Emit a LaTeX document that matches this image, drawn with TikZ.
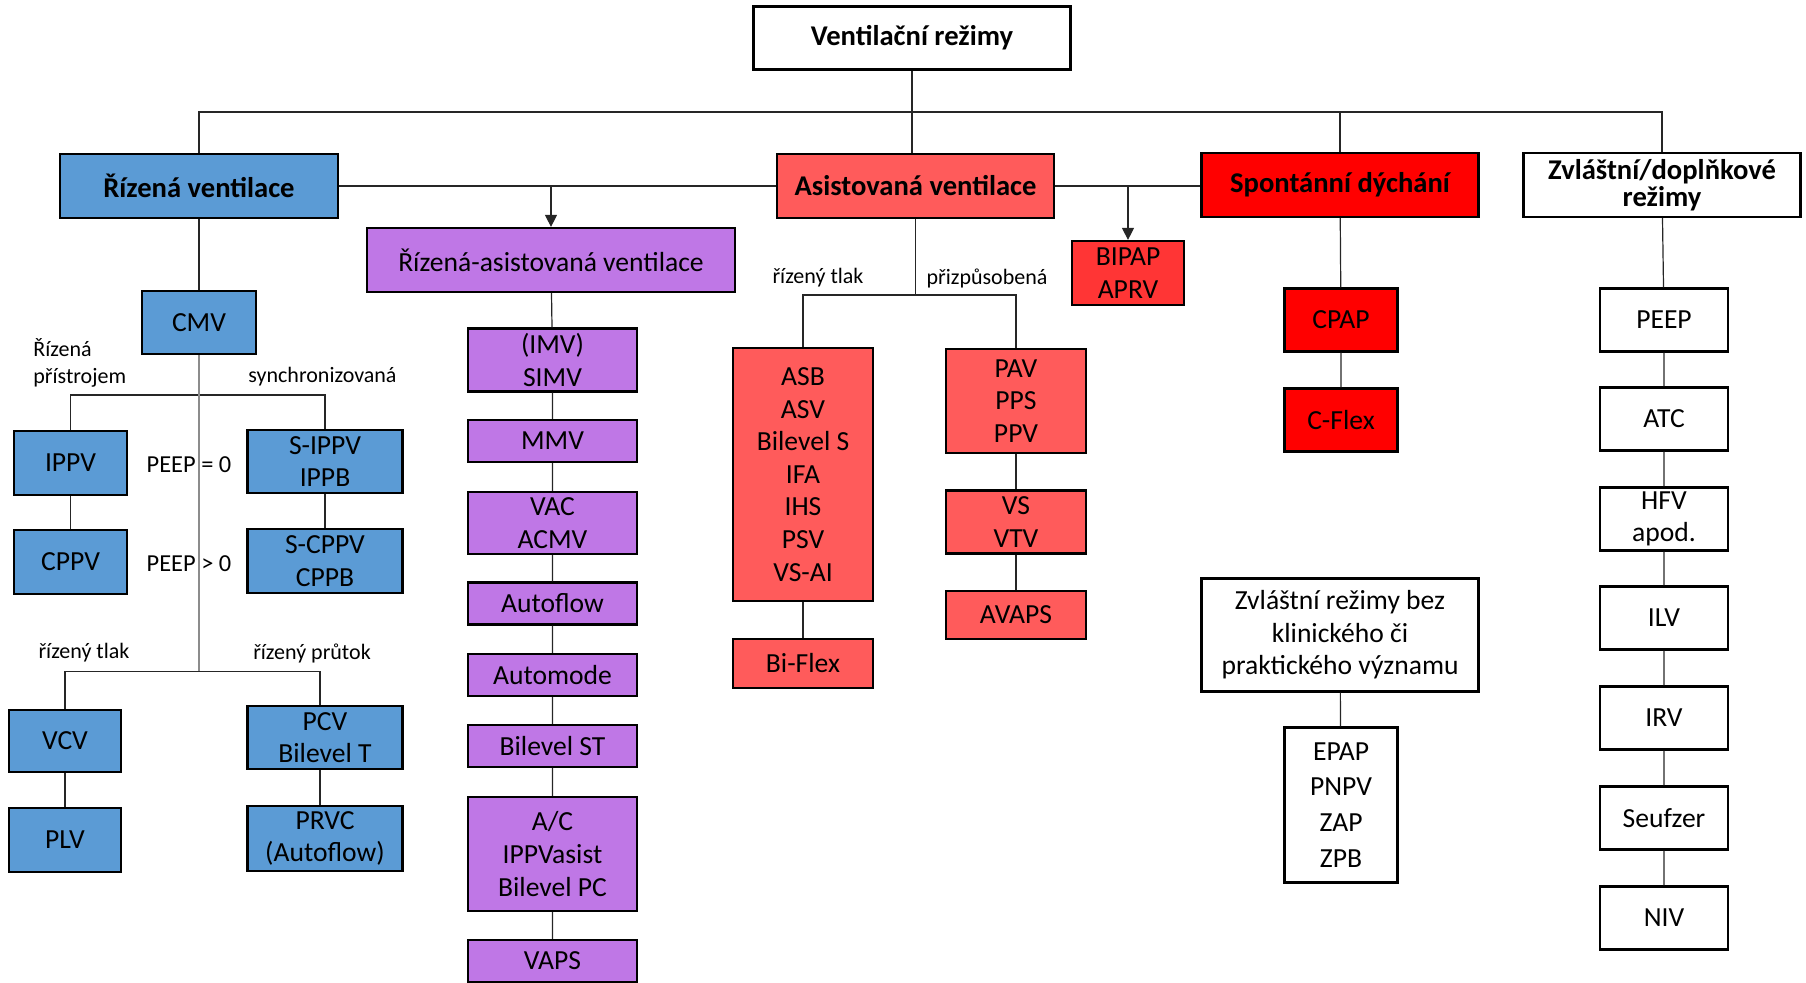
\documentclass[tikz,border=0pt]{standalone}
\usepackage{fontspec}
\setmainfont{Carlito}
\usetikzlibrary{arrows.meta}
\definecolor{cblue}{HTML}{5B9BD5}
\definecolor{cpurple}{HTML}{BF77E6}
\definecolor{csalmon}{HTML}{FF5B5B}
\definecolor{cred}{HTML}{FF0000}
\definecolor{cbipap}{HTML}{FF3535}
\begin{document}
\begin{tikzpicture}[x=0.5pt,y=-0.5pt,
  box/.style={draw=black, line width=1.1pt, inner sep=0pt, align=center, font=\fontsize{13.8}{16.3}\selectfont},
  hdr/.style={box, font=\fontsize{14.3}{13.6}\selectfont\bfseries},
  lbl/.style={inner sep=0pt, align=center, font=\fontsize{11}{13.3}\selectfont},
  ln/.style={line width=0.6pt, draw=black!85},
  arr/.style={ln, -{Triangle[width=6pt,length=6pt]}},
  bl/.style={box, fill=cblue},
  pu/.style={box, fill=cpurple, minimum width=84.5pt},
  sa/.style={box, fill=csalmon, minimum width=70.25pt},
  rd/.style={box, fill=cred, minimum width=56.5pt, minimum height=31.5pt},
  wh/.style={box, fill=white, minimum width=64pt, minimum height=31.5pt},
]
\useasboundingbox (0,0) rectangle (1806,983);

% top level
\node[hdr, fill=white, minimum width=158.5pt, minimum height=31.5pt] (top) at (912,38) {Ventilační režimy};
\node[hdr, fill=cblue, minimum width=139pt, minimum height=32pt] (riz) at (199,186) {Řízená ventilace};
\node[hdr, fill=csalmon, minimum width=138.5pt, minimum height=32pt] (asi) at (915.5,186) {Asistovaná ventilace};
\node[hdr, fill=cred, minimum width=138.5pt, minimum height=32pt] (spo) at (1340,185) {Spontánní dýchání};
\node[hdr, fill=white, minimum width=138.5pt, minimum height=32pt] (zvl) at (1662,185) {Zvláštní/doplňkové\\režimy};

% left blue column
\node[bl, minimum width=57pt, minimum height=31.5pt] (cmv) at (199,322.5) {CMV};
\node[bl, minimum width=56.5pt, minimum height=32pt] (ippv) at (70.5,463) {IPPV};
\node[bl, minimum width=56.5pt, minimum height=32pt] (cppv) at (70.5,562) {CPPV};
\node[bl, minimum width=77.5pt, minimum height=31.5pt] (sippv) at (325,461.5) {S-IPPV\\IPPB};
\node[bl, minimum width=77.5pt, minimum height=32pt] (scppv) at (325,561) {S-CPPV\\CPPB};
\node[bl, minimum width=56pt, minimum height=31pt] (vcv) at (65,741) {VCV};
\node[bl, minimum width=56pt, minimum height=32pt] (plv) at (65,840) {PLV};
\node[bl, minimum width=77.5pt, minimum height=31.5pt] (pcv) at (325,737.5) {PCV\\Bilevel T};
\node[bl, minimum width=77.5pt, minimum height=32.5pt] (prvc) at (325,838.5) {PRVC\\(Autoflow)};

\node[lbl, anchor=west, align=left] (lrp) at (33,363) {Řízená\\přístrojem};
\node[lbl] (lsy) at (322.5,377) {synchronizovaná};
\node[lbl, font=\fontsize{12.2}{14}\selectfont] (lp0) at (189,465) {PEEP = 0};
\node[lbl, font=\fontsize{12.2}{14}\selectfont] (lp1) at (189,564) {PEEP > 0};
\node[lbl] (lrt) at (84,653) {řízený tlak};
\node[lbl] (lrpr) at (312,653) {řízený průtok};

% purple column
\node[box, fill=cpurple, minimum width=184pt, minimum height=32pt] (rav) at (551,260) {Řízená-asistovaná ventilace};
\node[pu, minimum height=31.5pt] (simv) at (552.5,360) {(IMV)\\SIMV};
\node[pu, minimum height=21pt] (mmv) at (552.5,441) {MMV};
\node[pu, minimum height=31pt] (vac) at (552.5,523) {VAC\\ACMV};
\node[pu, minimum height=21pt] (aflow) at (552.5,603.5) {Autoflow};
\node[pu, minimum height=21pt] (amode) at (552.5,675) {Automode};
\node[pu, minimum height=21pt] (bst) at (552.5,746) {Bilevel ST};
\node[pu, minimum height=57pt] (ac) at (552.5,854) {A/C\\IPPVasist\\Bilevel PC};
\node[pu, minimum height=21pt] (vaps) at (552.5,961) {VAPS};

% assisted column
\node[sa, minimum height=126.5pt] (asb) at (803,474.5) {ASB\\ASV\\Bilevel S\\IFA\\IHS\\PSV\\VS-AI};
\node[sa, minimum height=24.5pt] (bif) at (803,663.5) {Bi-Flex};
\node[sa, minimum height=52pt] (pav) at (1016,401) {PAV\\PPS\\PPV};
\node[sa, minimum height=31.5pt] (vs) at (1016,522) {VS\\VTV};
\node[sa, minimum height=24pt] (avaps) at (1016,615) {AVAPS};
\node[box, fill=cbipap, minimum width=56pt, minimum height=32pt] (bipap) at (1128,273) {BIPAP\\APRV};
\node[lbl] (lrt2) at (818,278) {řízený tlak};
\node[lbl] (lpriz) at (987,278) {přizpůsobená};

% spontaneous column
\node[rd] (cpap) at (1341,320) {CPAP};
\node[rd] (cflex) at (1341,420) {C-Flex};
\node[box, fill=white, minimum width=138.5pt, minimum height=56.5pt] (zrez) at (1340,635) {Zvláštní režimy bez\\klinického či\\praktického významu};
\node[box, fill=white, minimum width=56.5pt, minimum height=77.5pt, font=\fontsize{13.8}{17.9}\selectfont] (epap) at (1341,805) {EPAP\\PNPV\\ZAP\\ZPB};

% special column
\node[wh] (peep) at (1664,320) {PEEP};
\node[wh] (atc) at (1664,419) {ATC};
\node[wh] (hfv) at (1664,519) {HFV\\apod.};
\node[wh] (ilv) at (1664,618) {ILV};
\node[wh] (irv) at (1664,718) {IRV};
\node[wh] (seu) at (1664,818) {Seufzer};
\node[wh] (niv) at (1664,918) {NIV};

% connectors
\coordinate (busy) at (0,112);
\draw[ln] (riz.north) -- (riz.north |- busy) -- (zvl.north |- busy) -- (zvl.north);
\draw[ln] (top.south) -- (top.south |- asi.north);
\draw[ln] (spo.north |- busy) -- (spo.north);

\draw[ln] (riz.east) -- (asi.west);
\draw[arr] (riz.east -| rav.north) -- (rav.north);
\draw[ln] (asi.east) -- (asi.east -| spo.west);
\draw[arr] (asi.east -| bipap.north) -- (bipap.north);

\draw[ln] (riz) -- (cmv);
\coordinate (b1) at (0,395);
\draw[ln] (ippv.north) -- (ippv.north |- b1) -- (sippv.north |- b1) -- (sippv.north);
\draw[ln] (ippv) -- (cppv);
\draw[ln] (sippv) -- (scppv);
\coordinate (b2) at (0,671.5);
\coordinate (pj) at (320,671.5);
\draw[line width=0.6pt, draw=black!45] (cmv.south) -- (cmv.south |- b2);
\draw[ln] (vcv.north) -- (vcv.north |- b2) -- (pj) -- (pj |- pcv.north);
\draw[ln] (vcv) -- (plv);
\draw[ln] (pcv.south -| pj) -- (prvc.north -| pj);

\draw[ln] (rav) -- (simv) -- (mmv) -- (vac) -- (aflow) -- (amode) -- (bst) -- (ac) -- (vaps);

\coordinate (ab) at (0,295);
\draw[ln] (asi.south) -- (asi.south |- ab);
\draw[ln] (asb.north) -- (asb.north |- ab) -- (pav.north |- ab) -- (pav.north);
\draw[ln] (asb) -- (bif);
\draw[ln] (pav) -- (vs) -- (avaps);

\draw[ln] (spo) -- (cpap) -- (cflex);
\draw[ln] (zrez) -- (epap);

\draw[ln] (zvl) -- (peep) -- (atc) -- (hfv) -- (ilv) -- (irv) -- (seu) -- (niv);
\end{tikzpicture}
\end{document}
